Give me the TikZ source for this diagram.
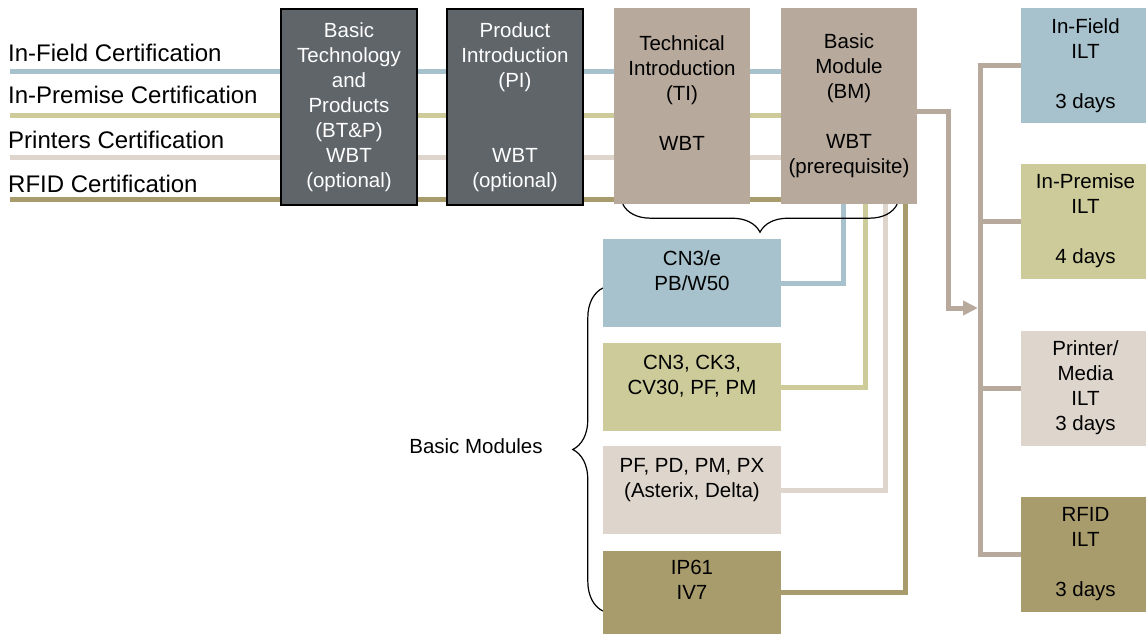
\documentclass[tikz,border=0pt]{standalone}
\usepackage{fontspec}
\setmainfont{Liberation Sans}
\usetikzlibrary{decorations.pathreplacing,arrows.meta,backgrounds}
\definecolor{slate}{HTML}{60656A}
\definecolor{taupe}{HTML}{B7A99C}
\definecolor{skyc}{HTML}{A7C2CC}
\definecolor{sage}{HTML}{CCCB99}
\definecolor{sand}{HTML}{DED6CD}
\definecolor{khaki}{HTML}{A99C6C}

\begin{document}
\begin{tikzpicture}[x=1pt,y=-1pt,
  box/.style={rectangle,inner sep=0pt,align=center,font=\fontsize{20.5}{25}\selectfont,minimum width=136pt,minimum height=196pt},
  wbtdark/.style={box,fill=slate,draw=black,line width=1.6pt,text=white},
  wbtlight/.style={box,fill=taupe},
  modbox/.style={box,minimum width=178pt,minimum height=88pt},
  iltbox/.style={box,minimum width=129pt,minimum height=115pt},
  trk/.style={line width=5pt},
  bus/.style={trk,draw=taupe},
  brc/.style={decorate,line width=1.2pt}]
\useasboundingbox (0,0) rectangle (1146,635);

\node[wbtdark] (btp) at (349,107) {Basic\\Technology\\and\\Products\\(BT\&P)\\WBT\\(optional)};
\node[wbtdark] (pi) at (515,107) {Product\\Introduction\\(PI)\\~\\~\\WBT\\(optional)};
\node[wbtlight] (ti) at (682,106) {Technical\\Introduction\\(TI)\\~\\WBT\\~};
\node[wbtlight] (bm) at (849,106) {Basic\\Module\\(BM)\\~\\WBT\\(prerequisite)};

\node[modbox,fill=skyc] (m1) at (692,283) {CN3/e\\PB/W50\\~};
\node[modbox,fill=sage] (m2) at (692,387) {CN3, CK3,\\CV30, PF, PM\\~};
\node[modbox,fill=sand] (m3) at (692,490) {PF, PD, PM, PX\\(Asterix, Delta)\\~};
\node[modbox,fill=khaki,minimum height=83pt] (m4) at (692,592.5) {IP61\\IV7\\~};

\node[iltbox,fill=skyc] (i1) at (1085.5,65.5) {In-Field\\ILT\\~\\3 days};
\node[iltbox,fill=sage] (i2) at (1085.5,221) {In-Premise\\ILT\\~\\4 days};
\node[iltbox,fill=sand] (i3) at (1085.5,388) {Printer/\\Media\\ILT\\3 days};
\node[iltbox,fill=khaki] (i4) at (1085.5,554) {RFID\\ILT\\~\\3 days};

\foreach \n/\y/\b/\c/\t in {1/71/61/skyc/In-Field,2/115/103/sage/In-Premise,3/157.5/148/sand/Printers,4/199.5/192/khaki/RFID}{
  \node[anchor=base west,inner sep=0pt,font=\fontsize{24}{28}\selectfont] (c\n) at (8,\b) {\t\ Certification};
  \coordinate (s\n) at (10,\y);
  \begin{scope}[on background layer]
    \draw[trk,draw=\c] (s\n) -- (s\n -| bm);
  \end{scope}
}

\draw[trk,draw=skyc] ([xshift=-6pt]bm.south) |- (m1.east);
\draw[trk,draw=sage] ([xshift=16pt]bm.south) |- (m2.east);
\draw[trk,draw=sand] ([xshift=36pt]bm.south) |- (m3.east);
\draw[trk,draw=khaki] ([xshift=56pt]bm.south) |- (m4.east);

\coordinate (jn) at (980,308);
\draw[bus,-{Triangle[length=15pt,width=14pt]}] ([yshift=-5pt]bm.east) -| ([xshift=-32pt]jn) -- ([xshift=-2pt]jn);
\draw[bus] (i1.west) -| (jn |- i4.west) -- (i4.west);
\draw[bus] (i2.west) -- (i2.west -| jn);
\draw[bus] (i3.west) -- (i3.west -| jn);

\draw[brc,decoration={brace,amplitude=28pt}] ([xshift=-20pt]bm.south east) -- ([xshift=9pt]ti.south west);
\draw[brc,decoration={brace,amplitude=30pt}] ([yshift=-18.5pt]m4.west) -- ([yshift=-5pt]m1.west);
\node[font=\fontsize{20.5}{25}\selectfont] (bmods) at (476,446) {Basic Modules};
\end{tikzpicture}
\end{document}
